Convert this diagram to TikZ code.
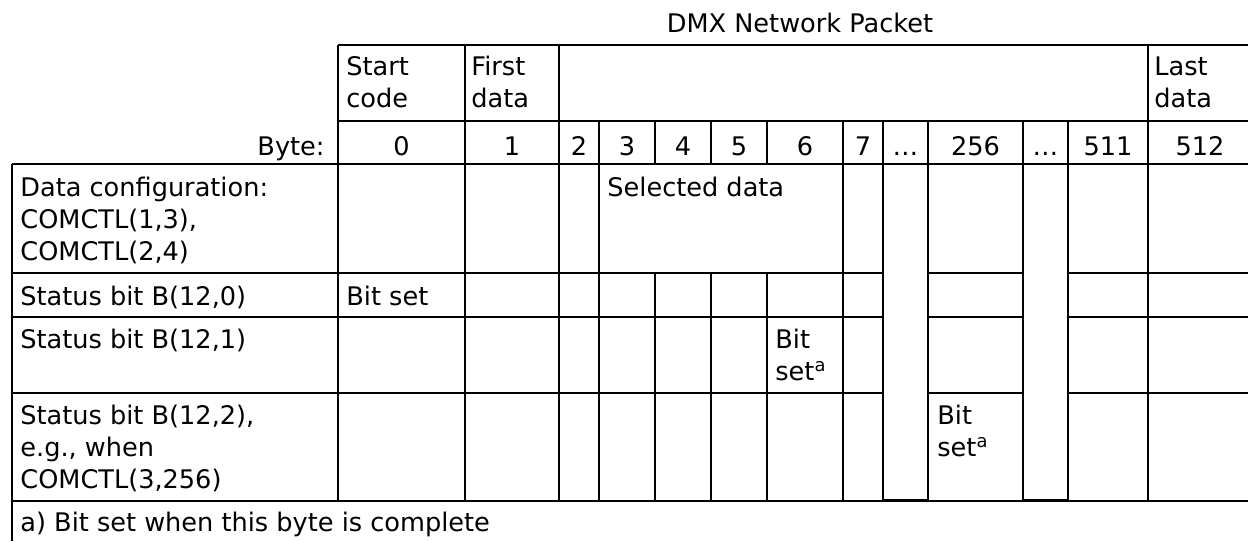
\documentclass[tikz,border=0pt]{standalone}
\usepackage{fontspec}
\setmainfont{DejaVu Sans}
\usetikzlibrary{positioning}

\begin{document}
\begin{tikzpicture}[
    x=0.5pt, y=-0.5pt,
    font=\fontsize{12.8}{16}\selectfont,
    grid/.style={line width=0.8pt, draw=black},
    txt/.style={anchor=base west, inner sep=0pt, align=left},
    num/.style={anchor=base, inner sep=0pt}
]
\useasboundingbox (0,0) rectangle (1248,541);
% header (multi-line nodes sit on their last baseline)
\node[num] (title) at (800,32) {DMX Network Packet};
\node[txt] (start) at (346,107) {Start\\code};
\node[txt] (first) at (471,107) {First\\data};
\node[txt] (last) at (1154,107) {Last\\data};
% byte numbers
\node[anchor=base east, inner sep=0pt] (byte) at (325,155) {Byte:};
\foreach \lbl/\cx [count=\i] in {0/401.5, 1/512, 2/579, 3/627, 4/683, 5/739, 6/805, 7/863, …/905.5, 256/975.5, …/1045.5, 511/1108, 512/1200}
  \node[num] (byte\i) at (\cx,155) {\lbl};
% rows
\node[txt] (cfg) at (20,260) {Data configuration:\\COMCTL(1,3),\\COMCTL(2,4)};
\node[txt] (sel) at (607,196) {Selected data};
\node[txt] (st0) at (20,305) {Status bit B(12,0)};
\node[txt] (set0) at (346,305) {Bit set};
\node[txt] (st1) at (20,348) {Status bit B(12,1)};
\node[txt] (set1) at (775,380) {Bit\\set\textsuperscript{a}};
\node[txt] (st2) at (20,488) {Status bit B(12,2),\\e.g., when\\COMCTL(3,256)};
\node[txt] (set2) at (937,456) {Bit\\set\textsuperscript{a}};
\node[txt] (note) at (20,531) {a) Bit set when this byte is complete};
% horizontal rules
\draw[grid] (338,45) -- (1248,45);
\draw[grid] (338,121) -- (1248,121);
\draw[grid] (12,164) -- (1248,164);
\foreach \y in {273,317,393}
  \draw[grid] (12,\y) -- (883,\y) (928,\y) -- (1023,\y) (1068,\y) -- (1248,\y);
\draw[grid] (12,501) -- (1248,501);
\draw[grid] (883,499.5) -- (928,499.5) (1023,499.5) -- (1068,499.5);
% vertical rules
\draw[grid] (12,164) -- (12,541);
\foreach \x in {338,465,559,1148}
  \draw[grid] (\x,45) -- (\x,501);
\foreach \x in {599,843,883,928,1023,1068}
  \draw[grid] (\x,121) -- (\x,501);
\foreach \x in {655,711,767}
  \draw[grid] (\x,121) -- (\x,164) (\x,273) -- (\x,501);
\end{tikzpicture}
\end{document}
